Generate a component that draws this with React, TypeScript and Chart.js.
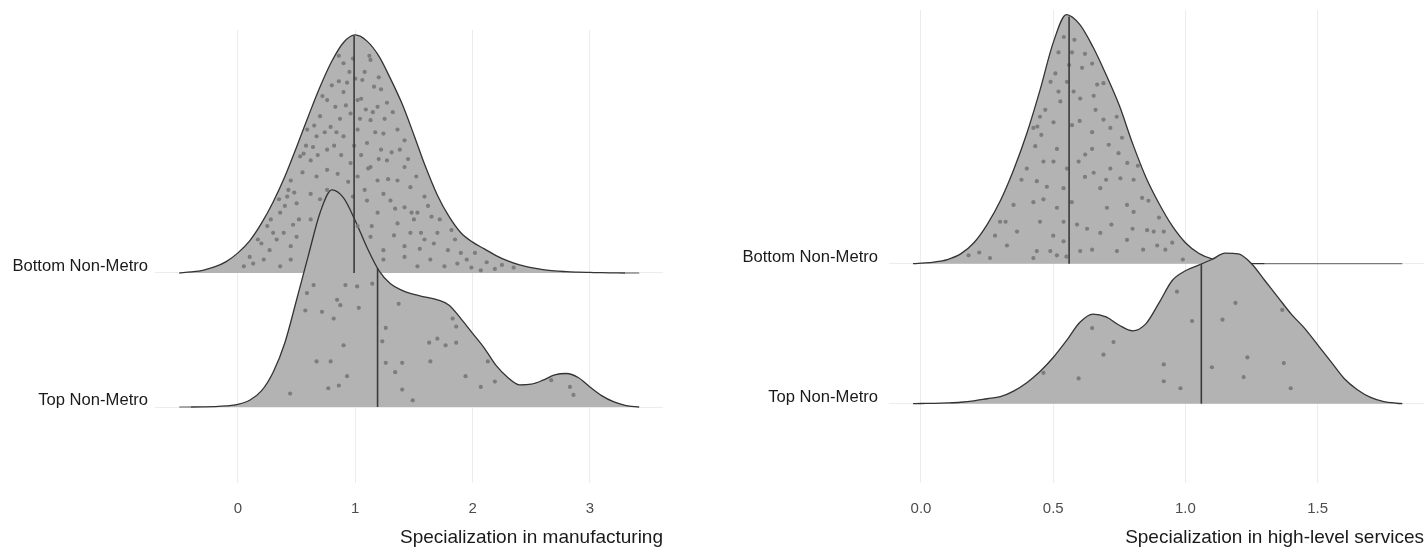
import React, { useEffect, useRef } from "react";
import { Chart, registerables } from "chart.js";

Chart.register(...registerables);

// ---------- Data ----------
const ridgeNames = ["Top Non-Metro", "Bottom Non-Metro"]; // baselines at y = 1 and y = 2

// Manufacturing panel
const mfgTicks = [0, 1, 2, 3];
const mfgTickLabels = ["0", "1", "2", "3"];
const mfgTitle = "Specialization in manufacturing";
const mfgX = [-0.5, -0.4, -0.3, -0.2, -0.1, 0, 0.1, 0.2, 0.3, 0.4, 0.5, 0.6, 0.7, 0.8, 0.9, 1.0, 1.1, 1.2, 1.3, 1.4, 1.5, 1.6, 1.7, 1.8, 1.9, 2.0, 2.1, 2.2, 2.3, 2.4, 2.5, 2.6, 2.7, 2.8, 2.9, 3.0, 3.1, 3.2, 3.3, 3.42];
const mfgBottomDensity = [0, 0.008, 0.02, 0.045, 0.085, 0.15, 0.24, 0.37, 0.53, 0.72, 0.94, 1.17, 1.39, 1.58, 1.72, 1.776, 1.73, 1.62, 1.45, 1.26, 1.03, 0.79, 0.58, 0.42, 0.3, 0.23, 0.18, 0.13, 0.09, 0.06, 0.04, 0.025, 0.015, 0.01, 0.006, 0.004, 0.002, 0.001, 0, 0];
const mfgTopDensity = [0, 0, 0.001, 0.003, 0.008, 0.02, 0.05, 0.12, 0.26, 0.48, 0.8, 1.13, 1.45, 1.62, 1.56, 1.39, 1.19, 1.02, 0.92, 0.87, 0.84, 0.82, 0.8, 0.76, 0.66, 0.55, 0.44, 0.31, 0.22, 0.165, 0.17, 0.2, 0.24, 0.25, 0.22, 0.15, 0.085, 0.04, 0.013, 0];
const mfgBottomMedian = 0.99;
const mfgTopMedian = 1.19;
const mfgBottomPoints = [
  [0.90, 1.565], [1.13, 1.59], [0.86, 1.43], [0.93, 1.42], [1.06, 1.44], [1.16, 1.39], [1.22, 1.37], [0.76, 1.29],
  [0.90, 1.35], [0.83, 1.24], [1.02, 1.29], [1.09, 1.22], [1.19, 1.24], [1.27, 1.27], [0.70, 1.17], [0.96, 1.19],
  [1.13, 1.14], [0.59, 1.07], [0.67, 1.02], [0.79, 1.09], [0.64, 0.94], [0.90, 1.02], [1.02, 1.07], [1.10, 0.97],
  [1.24, 1.04], [1.36, 1.07], [1.42, 0.99], [0.56, 0.89], [0.76, 0.92], [1.22, 0.92], [0.53, 0.87], [0.62, 0.84],
  [0.76, 0.77], [0.85, 0.74], [0.96, 0.82], [1.02, 0.72], [1.13, 0.79], [1.27, 0.84], [1.36, 0.69], [1.42, 0.79],
  [1.47, 0.64], [0.67, 0.72], [0.45, 0.69], [1.19, 0.69], [0.42, 0.57], [0.50, 0.52], [0.62, 0.59], [0.76, 0.62],
  [1.10, 0.54], [1.19, 0.45], [1.30, 0.54], [1.42, 0.49], [1.53, 0.45], [1.59, 0.57], [0.36, 0.45], [1.24, 0.59],
  [0.39, 0.30], [0.45, 0.20], [0.50, 0.27], [0.27, 0.17], [0.62, 0.40], [1.02, 0.35], [1.13, 0.27], [1.24, 0.17],
  [1.36, 0.37], [1.47, 0.30], [1.59, 0.25], [1.70, 0.30], [1.79, 0.17], [1.90, 0.15], [1.42, 0.20], [0.13, 0.07],
  [0.22, 0.10], [0.36, 0.05], [0.45, 0.10], [1.24, 0.10], [1.42, 0.12], [1.53, 0.05], [1.64, 0.10], [1.76, 0.05],
  [1.87, 0.07], [1.99, 0.04], [2.07, 0.02], [2.19, 0.03], [0.30, 0.30], [0.20, 0.22], [0.55, 0.75], [1.50, 0.40],
  [1.65, 0.42], [1.85, 0.25], [1.55, 0.18], [1.33, 0.28], [0.47, 0.36], [1.08, 0.62], [0.98, 0.57], [1.31, 0.90],
  [0.72, 1.32], [0.84, 1.05], [1.17, 1.05], [1.05, 1.30], [0.98, 1.60], [0.95, 1.50], [1.05, 0.88], [0.88, 0.88],
  [0.25, 0.35], [0.33, 0.25], [0.40, 0.50], [0.48, 0.60], [0.52, 0.40], [0.58, 0.95], [0.65, 1.10], [0.68, 0.88],
  [0.74, 1.05], [0.80, 1.40], [0.82, 0.95], [0.87, 1.15], [0.92, 1.25], [0.94, 0.68], [0.99, 0.95], [1.00, 1.45],
  [1.04, 1.15], [1.08, 1.50], [1.11, 0.78], [1.15, 1.20], [1.20, 0.85], [1.25, 1.15], [1.28, 0.70], [1.32, 1.20],
  [1.34, 0.48], [1.38, 0.92], [1.45, 0.85], [1.48, 0.45], [1.52, 0.72], [1.56, 0.30], [1.62, 0.50], [1.67, 0.22],
  [1.72, 0.40], [1.82, 0.32], [1.95, 0.10], [2.02, 0.15], [2.12, 0.08], [2.25, 0.06], [2.35, 0.04], [0.10, 0.12],
  [0.05, 0.05], [0.17, 0.25], [0.28, 0.40], [0.35, 0.55], [0.43, 0.62], [1.12, 1.62], [0.86, 1.62], [1.20, 1.46],
  [0.70, 0.55], [1.14, 0.35],
];
const mfgTopPoints = [
  [0.645, 0.91], [0.916, 0.91], [1.016, 0.90], [1.145, 0.92], [0.588, 0.85], [0.845, 0.80], [0.873, 0.76], [0.574, 0.72],
  [0.716, 0.71], [0.816, 0.66], [1.03, 0.74], [1.37, 0.77], [1.26, 0.59], [1.23, 0.49], [0.90, 0.46], [1.63, 0.48],
  [1.70, 0.51], [1.77, 0.46], [1.86, 0.48], [1.83, 0.66], [1.86, 0.60], [0.67, 0.34], [0.79, 0.34], [1.26, 0.33],
  [1.40, 0.33], [1.34, 0.26], [1.64, 0.34], [0.93, 0.23], [0.86, 0.16], [0.77, 0.14], [0.445, 0.10], [1.40, 0.13],
  [1.49, 0.05], [1.94, 0.23], [2.07, 0.15], [2.13, 0.34], [2.19, 0.19], [2.67, 0.20], [2.83, 0.15], [2.86, 0.09],
];

// High-level services panel
const svcTicks = [0, 0.5, 1, 1.5];
const svcTickLabels = ["0.0", "0.5", "1.0", "1.5"];
const svcTitle = "Specialization in high-level services";
const svcX = [-0.03, 0, 0.05, 0.1, 0.15, 0.2, 0.25, 0.3, 0.35, 0.4, 0.45, 0.5, 0.55, 0.6, 0.65, 0.7, 0.75, 0.8, 0.85, 0.9, 0.95, 1.0, 1.05, 1.1, 1.15, 1.2, 1.25, 1.3, 1.35, 1.4, 1.45, 1.5, 1.55, 1.6, 1.65, 1.7, 1.75, 1.8, 1.82];
const svcBottomDensity = [0, 0.004, 0.012, 0.03, 0.07, 0.15, 0.28, 0.45, 0.67, 0.93, 1.24, 1.58, 1.78, 1.71, 1.55, 1.35, 1.13, 0.86, 0.62, 0.43, 0.27, 0.15, 0.075, 0.035, 0.015, 0.005, 0.001, 0, 0, 0, 0, 0, 0, 0, 0, 0, 0, 0, 0];
const svcTopDensity = [0, 0.001, 0.002, 0.005, 0.01, 0.02, 0.035, 0.05, 0.09, 0.15, 0.23, 0.33, 0.45, 0.58, 0.64, 0.62, 0.56, 0.52, 0.57, 0.72, 0.88, 0.95, 0.99, 1.03, 1.075, 1.07, 1.0, 0.88, 0.76, 0.64, 0.54, 0.42, 0.3, 0.18, 0.1, 0.045, 0.015, 0.003, 0];
const svcBottomMedian = 0.56;
const svcTopMedian = 1.06;
const svcBottomPoints = [
  [0.52, 1.51], [0.571, 1.51], [0.609, 1.40], [0.647, 1.43], [0.508, 1.36], [0.552, 1.30], [0.45, 1.05], [0.52, 1.23],
  [0.577, 1.23], [0.666, 1.28], [0.69, 1.29], [0.44, 0.98], [0.455, 0.92], [0.527, 1.16], [0.602, 1.18], [0.653, 1.20],
  [0.425, 0.97], [0.501, 1.01], [0.571, 0.99], [0.647, 0.94], [0.69, 1.03], [0.716, 0.97], [0.432, 0.84], [0.514, 0.82],
  [0.621, 0.78], [0.647, 0.82], [0.71, 0.85], [0.747, 0.79], [0.40, 0.68], [0.463, 0.73], [0.501, 0.73], [0.552, 0.68],
  [0.596, 0.73], [0.653, 0.65], [0.716, 0.68], [0.754, 0.61], [0.804, 0.60], [0.438, 0.59], [0.476, 0.55], [0.539, 0.54],
  [0.678, 0.54], [0.425, 0.44], [0.463, 0.46], [0.514, 0.40], [0.703, 0.40], [0.779, 0.42], [0.804, 0.37], [0.836, 0.47],
  [0.299, 0.30], [0.363, 0.23], [0.539, 0.30], [0.59, 0.28], [0.628, 0.25], [0.678, 0.22], [0.779, 0.17], [0.855, 0.24],
  [0.88, 0.23], [0.918, 0.23], [0.325, 0.13], [0.438, 0.09], [0.489, 0.09], [0.539, 0.16], [0.602, 0.09], [0.647, 0.10],
  [0.741, 0.09], [0.893, 0.13], [0.924, 0.10], [0.261, 0.04], [0.425, 0.04], [0.514, 0.06], [0.99, 0.03],
  [0.49, 1.30], [0.54, 1.62], [0.58, 1.60], [0.62, 1.50], [0.56, 1.42], [0.74, 1.05], [0.76, 0.90], [0.78, 0.72],
  [0.82, 0.70], [0.86, 0.45], [0.90, 0.33], [0.95, 0.15], [0.38, 0.60], [0.35, 0.42], [0.32, 0.30], [0.28, 0.20],
  [0.22, 0.08], [0.18, 0.06], [0.47, 1.10], [0.60, 1.02], [0.66, 1.10], [0.70, 0.60], [0.72, 0.28], [0.80, 0.25],
  [0.84, 0.10], [0.57, 0.44], [0.62, 0.62], [0.50, 0.20], [0.45, 0.30], [0.55, 0.05],
];
const svcTopPoints = [
  [0.463, 0.22], [0.596, 0.18], [0.647, 0.54], [0.728, 0.44], [0.69, 0.35], [0.918, 0.28], [0.918, 0.16], [0.981, 0.11],
  [0.968, 0.80], [1.025, 0.59], [1.10, 0.26], [1.14, 0.60], [1.189, 0.72], [1.234, 0.33], [1.22, 0.19], [1.366, 0.67],
  [1.372, 0.29], [1.398, 0.11],
];

// ---------- Styling ----------
const FONT = "'Liberation Sans', Arial, Helvetica, sans-serif";
const FILL = "#b3b3b3";
const OUTLINE = "#333333";
const FLAT_OUTLINE = "#7a7a7a";
const MEDIAN = "#3a3a3a";
const POINT = "#7d7d7d";
const GRID = "#ececec";
const Y_MIN = 0.433;
const Y_MAX = 3.813;

function interp(xs: number[], ds: number[], v: number): number {
  for (let i = 0; i < xs.length - 1; i++) {
    if (v >= xs[i] && v <= xs[i + 1]) {
      const t = (v - xs[i]) / (xs[i + 1] - xs[i]);
      return ds[i] + t * (ds[i + 1] - ds[i]);
    }
  }
  return 0;
}

type Panel = {
  left: number;
  width: number;
  yAxisWidth: number;
  labelPad: number;
  padTop: number;
  padRight: number;
  xMin: number;
  xMax: number;
  ticks: number[];
  tickLabels: string[];
  title: string;
  xs: number[];
  bottom: number[];
  top: number[];
  bottomMedian: number;
  topMedian: number;
  bottomPts: number[][];
  topPts: number[][];
};

const panels: Panel[] = [
  {
    left: 0, width: 700, yAxisWidth: 155, labelPad: 7, padTop: 30, padRight: 37,
    xMin: -0.707, xMax: 3.623, ticks: mfgTicks, tickLabels: mfgTickLabels, title: mfgTitle,
    xs: mfgX, bottom: mfgBottomDensity, top: mfgTopDensity,
    bottomMedian: mfgBottomMedian, topMedian: mfgTopMedian,
    bottomPts: mfgBottomPoints, topPts: mfgTopPoints,
  },
  {
    left: 700, width: 728, yAxisWidth: 189, labelPad: 11, padTop: 10, padRight: 4,
    xMin: -0.121, xMax: 1.902, ticks: svcTicks, tickLabels: svcTickLabels, title: svcTitle,
    xs: svcX, bottom: svcBottomDensity, top: svcTopDensity,
    bottomMedian: svcBottomMedian, topMedian: svcTopMedian,
    bottomPts: svcBottomPoints, topPts: svcTopPoints,
  },
];

const ridgeLabelPlugin = {
  id: "ridgeLabels",
  afterDraw(chart: any, _args: any, opts: any) {
    const { ctx, chartArea, scales } = chart;
    ctx.save();
    ctx.font = `16.6px ${FONT}`;
    ctx.fillStyle = "#1a1a1a";
    ctx.textAlign = "right";
    ctx.textBaseline = "alphabetic";
    ridgeNames.forEach((name, i) => {
      const y = scales.y.getPixelForValue(i + 1);
      ctx.fillText(name, chartArea.left - opts.pad, y - 2);
    });
    ctx.restore();
  },
};

function buildChart(canvas: HTMLCanvasElement, p: Panel) {
  const ridge = (ds: number[], base: number) => p.xs.map((x, i) => ({ x, y: base + ds[i] }));
  const pts = (arr: number[][], base: number) => arr.map(([v, h]) => ({ x: v, y: base + h }));
  const med = (m: number, ds: number[], base: number) => [
    { x: m, y: base },
    { x: m, y: base + interp(p.xs, ds, m) },
  ];
  const ridgeLine = (base: number) => ({
    showLine: true,
    pointRadius: 0,
    pointHoverRadius: 0,
    cubicInterpolationMode: "monotone" as const,
    borderColor: OUTLINE,
    borderWidth: 1.3,
    backgroundColor: FILL,
    fill: { value: base },
    segment: {
      borderColor: (ctx: any) =>
        Math.abs(ctx.p0.parsed.y - base) < 1e-9 && Math.abs(ctx.p1.parsed.y - base) < 1e-9 ? FLAT_OUTLINE : OUTLINE,
    },
  });

  return new Chart(canvas, {
    type: "scatter",
    data: {
      datasets: [
        { ...ridgeLine(2), label: "Bottom Non-Metro", data: ridge(p.bottom, 2), order: 6 },
        { ...ridgeLine(1), label: "Top Non-Metro", data: ridge(p.top, 1), order: 5 },
        { label: "Bottom points", data: pts(p.bottomPts, 2), pointRadius: 2.1, pointBorderWidth: 0, pointBackgroundColor: POINT, backgroundColor: POINT, order: 4 },
        { label: "Top points", data: pts(p.topPts, 1), pointRadius: 2.1, pointBorderWidth: 0, pointBackgroundColor: POINT, backgroundColor: POINT, order: 3 },
        { showLine: true, pointRadius: 0, label: "Bottom median", data: med(p.bottomMedian, p.bottom, 2), borderColor: MEDIAN, borderWidth: 1.6, fill: false, order: 2 },
        { showLine: true, pointRadius: 0, label: "Top median", data: med(p.topMedian, p.top, 1), borderColor: MEDIAN, borderWidth: 1.6, fill: false, order: 1 },
      ] as any,
    },
    options: {
      animation: false,
      responsive: false,
      events: [],
      layout: { padding: { top: p.padTop, right: p.padRight, left: 0, bottom: 0 } },
      plugins: {
        legend: { display: false },
        tooltip: { enabled: false },
        ridgeLabels: { pad: p.labelPad },
      } as any,
      scales: {
        x: {
          type: "linear",
          min: p.xMin,
          max: p.xMax,
          afterBuildTicks: (s: any) => {
            s.ticks = p.ticks.map((v) => ({ value: v }));
          },
          afterFit: (s: any) => {
            s.height = 68;
          },
          ticks: {
            callback: (_v: any, i: number) => p.tickLabels[i],
            color: "#4d4d4d",
            font: { family: FONT, size: 15 },
            padding: 17,
            maxRotation: 0,
            autoSkip: false,
          },
          grid: { color: GRID, lineWidth: 1, drawTicks: false },
          border: { display: false },
          title: {
            display: true,
            text: p.title,
            align: "end",
            color: "#1a1a1a",
            font: { family: FONT, size: 19 },
            padding: { top: 0, bottom: 2 },
          },
        },
        y: {
          type: "linear",
          min: Y_MIN,
          max: Y_MAX,
          afterBuildTicks: (s: any) => {
            s.ticks = [{ value: 1 }, { value: 2 }];
          },
          afterFit: (s: any) => {
            s.width = p.yAxisWidth;
          },
          ticks: { display: false },
          grid: { color: GRID, lineWidth: 1, drawTicks: false },
          border: { display: false },
        },
      } as any,
    },
    plugins: [ridgeLabelPlugin],
  });
}

function RidgePanel({ panel }: { panel: Panel }) {
  const ref = useRef<HTMLCanvasElement | null>(null);
  useEffect(() => {
    if (!ref.current) return;
    const chart = buildChart(ref.current, panel);
    return () => chart.destroy();
  }, [panel]);
  return (
    <canvas
      ref={ref}
      width={panel.width}
      height={551}
      style={{ position: "absolute", left: panel.left, top: 0, width: panel.width, height: 551 }}
    />
  );
}

export default function App() {
  return (
    <div style={{ position: "fixed", left: 0, top: 0, width: 1428, height: 551, background: "#ffffff", overflow: "hidden" }}>
      {panels.map((p, i) => (
        <RidgePanel key={i} panel={p} />
      ))}
    </div>
  );
}
